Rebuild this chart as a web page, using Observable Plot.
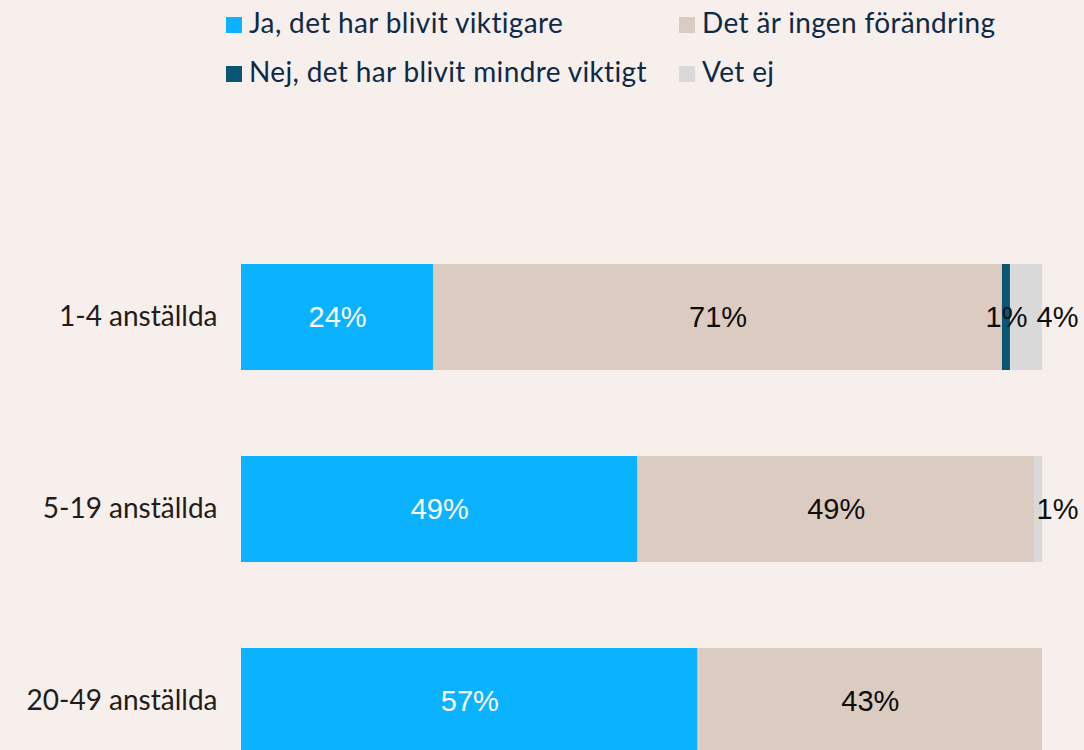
<!DOCTYPE html>
<html>
<head>
<meta charset="utf-8">
<script src="https://cdn.jsdelivr.net/npm/d3@7"></script>
<script src="https://cdn.jsdelivr.net/npm/@observablehq/plot@0.6"></script>
<style>
  html, body { margin: 0; padding: 0; width: 1084px; height: 750px; overflow: hidden; background: #f7efec; }
  #wrap { position: relative; width: 1084px; height: 750px; overflow: hidden; }
  #legend { position: absolute; left: 226px; top: -2px; display: grid; grid-template-columns: 453px auto;
            font-family: Lato, "Open Sans", sans-serif; font-size: 28px; line-height: 49px; color: #0e2a47;
            letter-spacing: 0.35px; z-index: 2; }
  #legend .item { white-space: nowrap; }
  #legend .sw { display: inline-block; width: 16px; height: 16px; margin-right: 7px; vertical-align: baseline; }
  #chart { position: absolute; left: 0; top: 0; }
</style>
</head>
<body>
<div id="wrap">
  <div id="legend"></div>
  <div id="chart"></div>
</div>
<script>
// ---- data ----
const groups = ["1-4 anställda", "5-19 anställda", "20-49 anställda"];
const series = ["Ja, det har blivit viktigare", "Det är ingen förändring", "Nej, det har blivit mindre viktigt", "Vet ej"];
const colors = ["#0ab2ff", "#dccbc0", "#0a5573", "#d9d9d9"];
const ja    = [24, 49, 57];
const ingen = [71, 49, 43];
const nej   = [1, 0, 0];
const vetej = [4, 1, 0];

const valuesBySeries = [ja, ingen, nej, vetej];
const data = [];
groups.forEach((g, gi) => {
  series.forEach((s, si) => {
    data.push({group: g, series: s, value: valuesBySeries[si][gi]});
  });
});

// ---- legend ----
const legend = document.getElementById("legend");
series.forEach((s, i) => {
  const item = document.createElement("div");
  item.className = "item";
  const sw = document.createElement("span");
  sw.className = "sw";
  sw.style.background = colors[i];
  item.appendChild(sw);
  item.appendChild(document.createTextNode(s));
  legend.appendChild(item);
});

// ---- chart ----
const pct = d => d.value + "%";
const stackOpts = {x: "value", y: "group", order: series, offset: "normalize"};
const labelFont = {fontFamily: "'Liberation Sans', Arial, sans-serif", fontSize: 29};

const chart = Plot.plot({
  width: 1084,
  height: 842,
  marginTop: 177,
  marginBottom: 0,
  marginLeft: 241,
  marginRight: 42,
  style: {background: "transparent", overflow: "visible"},
  x: {axis: null, domain: [0, 1]},
  y: {domain: groups, padding: 0.446, label: null},
  color: {domain: series, range: colors},
  marks: [
    Plot.barX(data, Plot.stackX({...stackOpts, fill: "series"})),
    Plot.text(data, Plot.stackX({...stackOpts, z: "series", ...labelFont, fill: "white",
      text: d => (d.series === series[0] && d.value > 0) ? pct(d) : ""})),
    Plot.text(data, Plot.stackX({...stackOpts, z: "series", ...labelFont, fill: "#0d0d0d",
      text: d => (d.series !== series[0] && d.series !== series[3] && d.value > 0) ? pct(d) : ""})),
    Plot.text(data, Plot.stackX2({...stackOpts, z: "series", ...labelFont, fill: "#0d0d0d", textAnchor: "start", dx: -6,
      text: d => (d.series === series[3] && d.value > 0) ? pct(d) : ""})),
    Plot.axisY({tickSize: 0, tickPadding: 24, fontSize: 28, fontFamily: "Lato, 'Open Sans', sans-serif", fill: "#231c1a", label: null})
  ]
});
document.getElementById("chart").appendChild(chart);
</script>
</body>
</html>
